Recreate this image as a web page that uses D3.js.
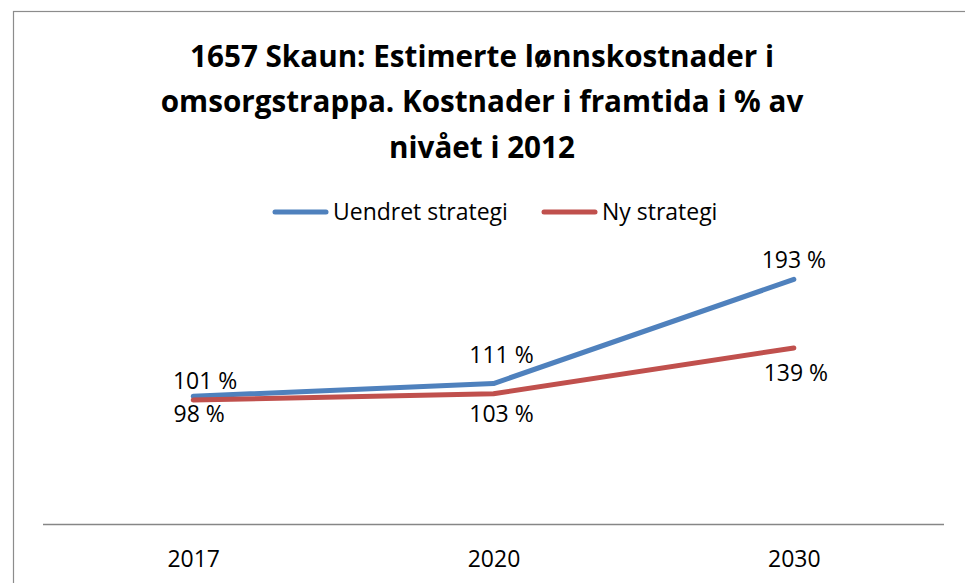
<!DOCTYPE html>
<html>
<head>
<meta charset="utf-8">
<script src="https://cdn.jsdelivr.net/npm/d3@7"></script>
<style>
  html, body { margin: 0; padding: 0; background: #fff; }
  svg { display: block; font-family: "Open Sans", sans-serif; }
</style>
</head>
<body>
<svg width="965" height="583"></svg>
<script>
// data
const years = ["2017", "2020", "2030"];
const uendret = [101, 111, 193];
const nyStrategi = [98, 103, 139];
const seriesNames = ["Uendret strategi", "Ny strategi"];
const titleLines = [
  "1657 Skaun: Estimerte lønnskostnader i",
  "omsorgstrappa. Kostnader i framtida i % av",
  "nivået i 2012"
];

const colors = ["#4F81BD", "#C0504D"];

const svg = d3.select("svg");

// frame
svg.append("rect")
  .attr("x", 13.5).attr("y", 11.5)
  .attr("width", 1000).attr("height", 1000)
  .attr("fill", "#fff")
  .attr("stroke", "#8c8c8c")
  .attr("stroke-width", 1.2);

// scales
const x = d3.scalePoint().domain(years).range([43, 944]).padding(0.5);
const y = d3.scaleLinear().domain([0, 250]).range([524.5, 207]);

// fit a font size so a text gets a given width
function fitSize(text, weight, target) {
  const t = svg.append("text")
    .attr("font-size", 20).attr("font-weight", weight).text(text);
  const w = t.node().getComputedTextLength();
  t.remove();
  return 20 * target / w;
}

// title
const titleSize = fitSize(titleLines[1], "bold", 643);
const titleY = [67, 112, 158];
svg.append("g").selectAll("text")
  .data(titleLines)
  .join("text")
  .attr("x", 482)
  .attr("y", (d, i) => titleY[i])
  .attr("text-anchor", "middle")
  .attr("font-weight", "bold")
  .attr("font-size", titleSize)
  .attr("fill", "#000")
  .text(d => d);

const labelSize = fitSize(seriesNames[0], "normal", 175);

// legend
const legendX = [275, 544];
const leg = svg.append("g").selectAll("g")
  .data(seriesNames)
  .join("g")
  .attr("transform", (d, i) => `translate(${legendX[i]},212)`);
leg.append("line")
  .attr("x1", 0).attr("x2", 51)
  .attr("stroke", (d, i) => colors[i])
  .attr("stroke-width", 5)
  .attr("stroke-linecap", "round");
leg.append("text")
  .attr("x", 58).attr("y", 8)
  .attr("font-size", labelSize)
  .text(d => d);

// x axis
const xAxis = svg.append("g")
  .attr("transform", "translate(0,524.5)")
  .call(d3.axisBottom(x).tickSize(0).tickPadding(0));
xAxis.select(".domain").remove();
xAxis.append("line")
  .attr("x1", 43).attr("x2", 944)
  .attr("stroke", "#868686")
  .attr("stroke-width", 1.5);
xAxis.selectAll(".tick text")
  .attr("font-family", "Open Sans, sans-serif")
  .attr("font-size", labelSize)
  .attr("fill", "#000")
  .attr("dy", null)
  .attr("y", 42);

// lines
const line = d3.line()
  .x((d, i) => x(years[i]))
  .y(d => y(d));

[uendret, nyStrategi].forEach((vals, s) => {
  svg.append("path")
    .datum(vals)
    .attr("d", line)
    .attr("fill", "none")
    .attr("stroke", colors[s])
    .attr("stroke-width", 5)
    .attr("stroke-linecap", "round")
    .attr("stroke-linejoin", "round");
});

// data labels (placed by hand in the original)
const labelShift = [
  [[12, -7], [8, -21], [0, -11]],
  [[6, 22], [8, 28], [2, 33]]
];
[uendret, nyStrategi].forEach((vals, s) => {
  svg.append("g").selectAll("text")
    .data(vals)
    .join("text")
    .attr("x", (d, i) => x(years[i]) + labelShift[s][i][0])
    .attr("y", (d, i) => y(d) + labelShift[s][i][1])
    .attr("text-anchor", "middle")
    .attr("font-size", labelSize)
    .text(d => d + " %");
});
</script>
</body>
</html>
